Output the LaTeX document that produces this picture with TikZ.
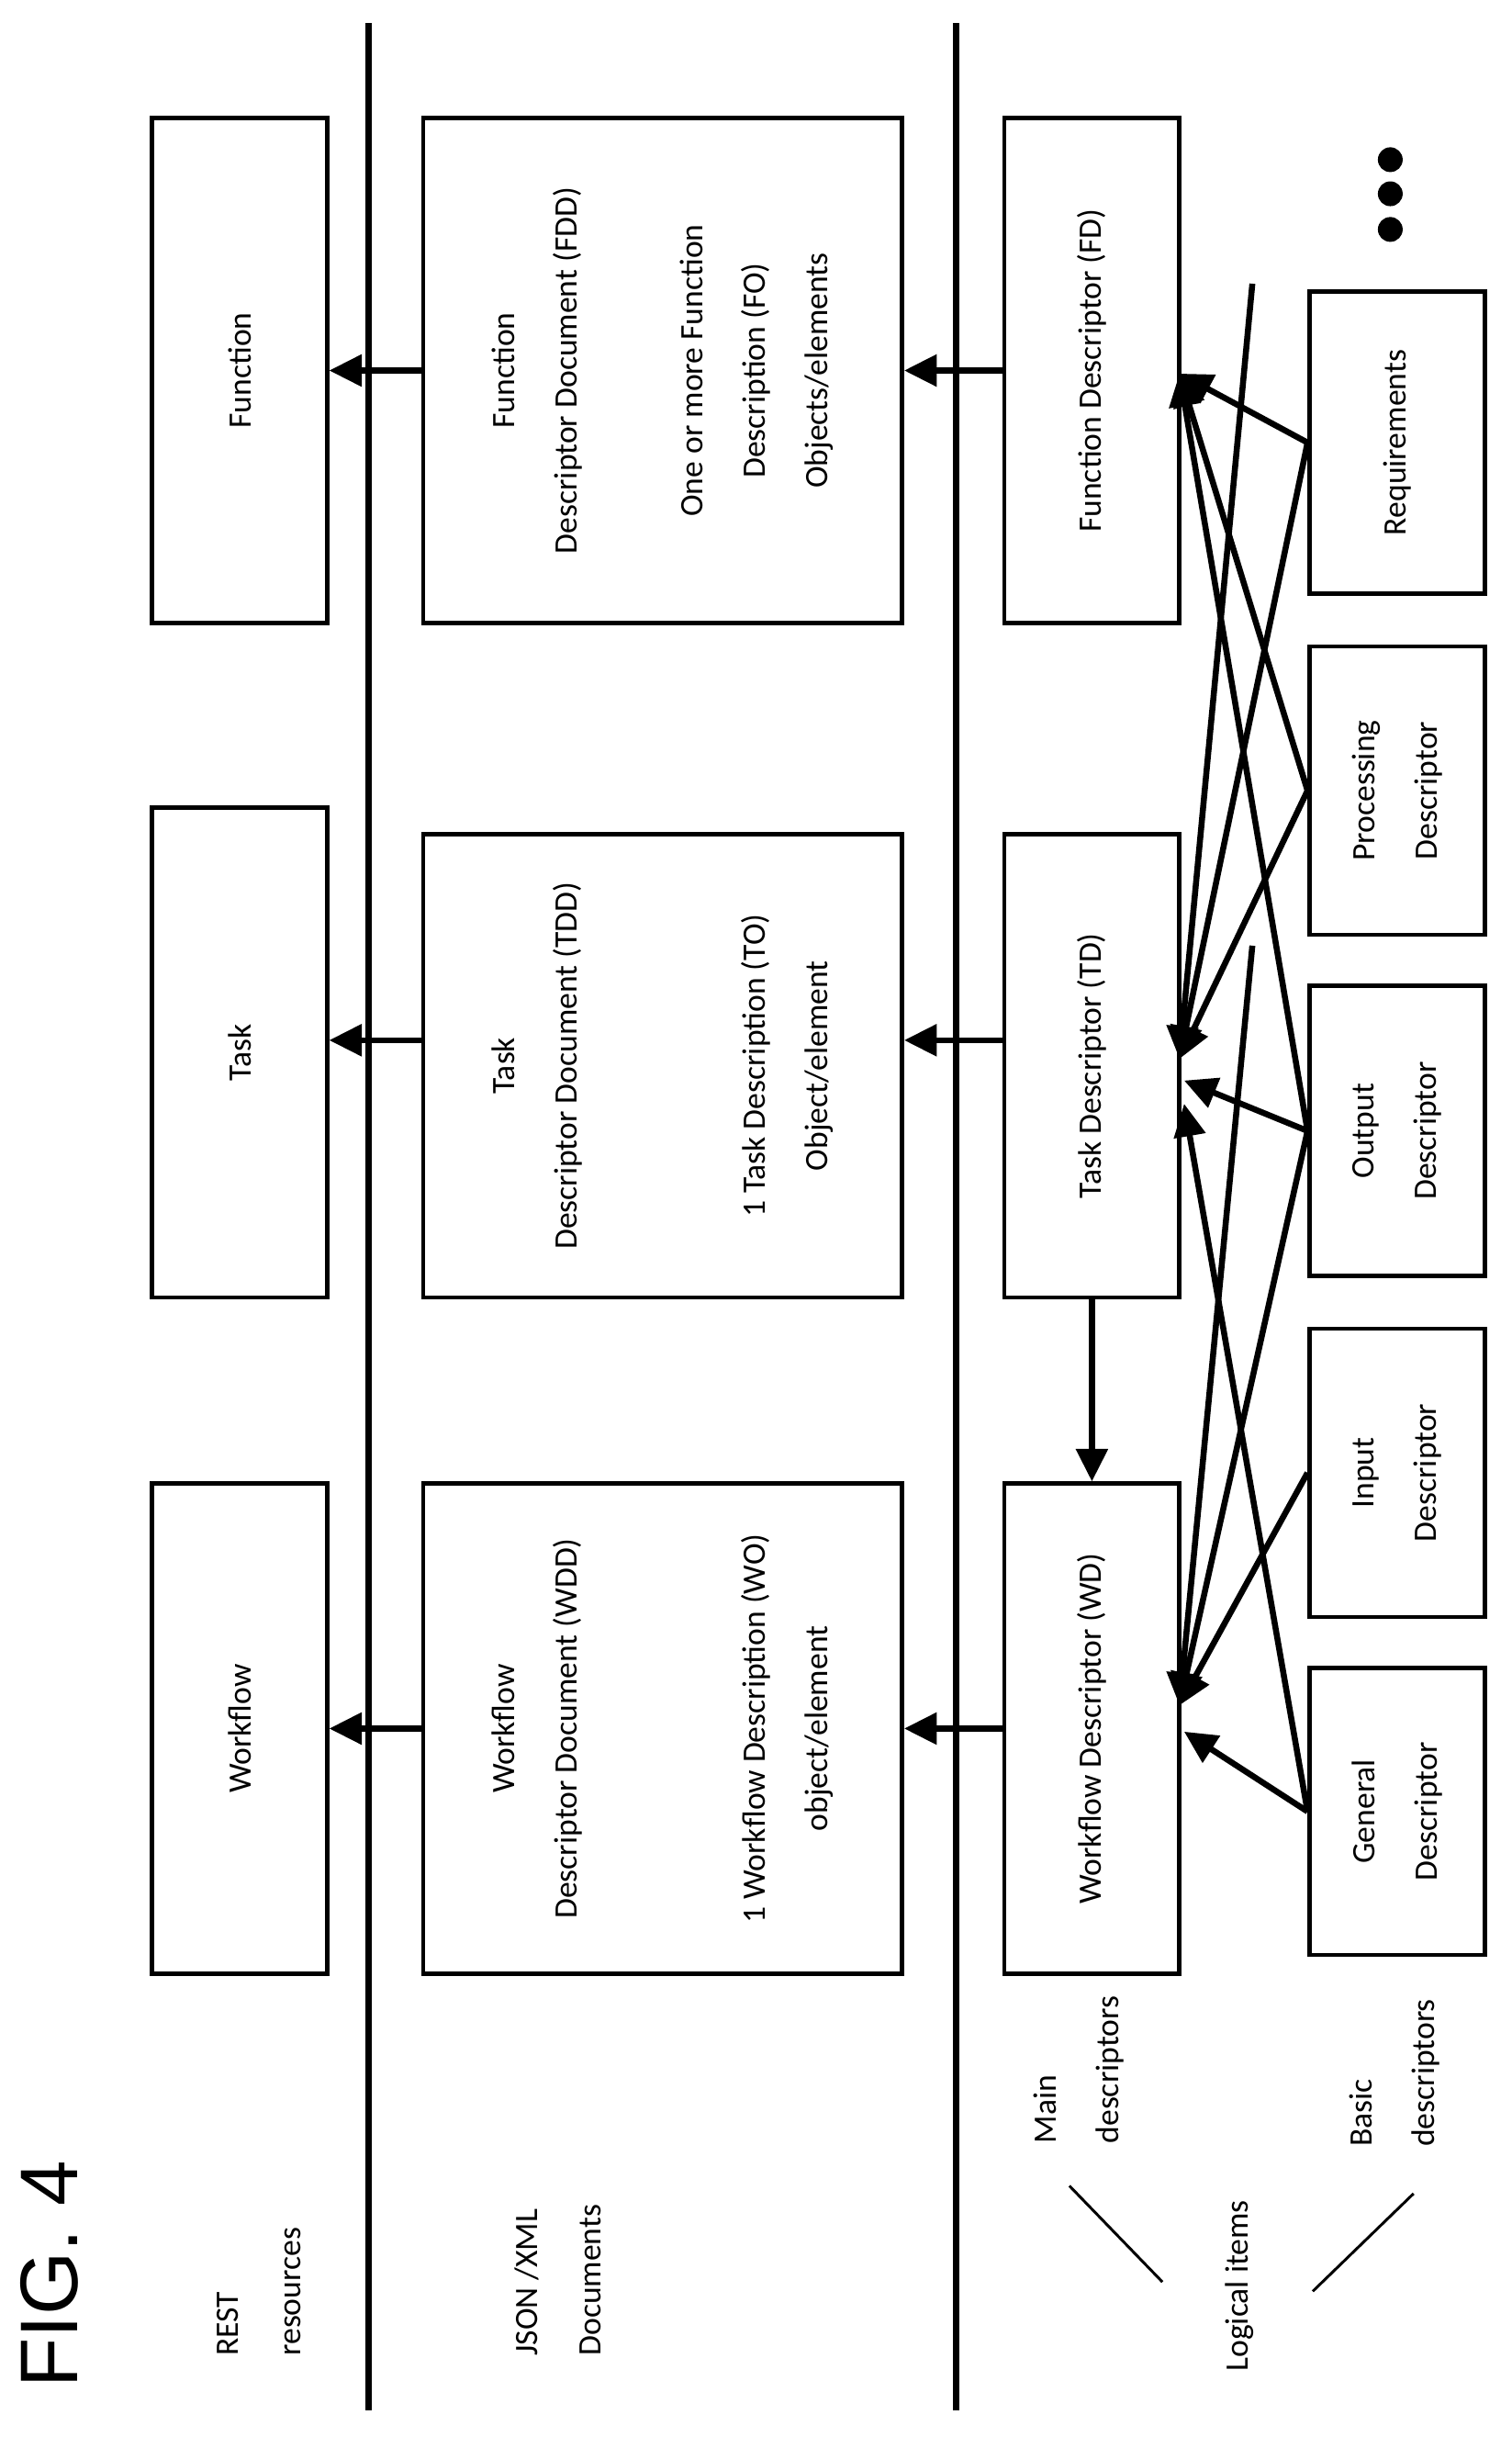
\documentclass[tikz,border=0pt]{standalone}
\usepackage{fontspec}
\setmainfont{Carlito}
\newfontfamily\figfont{Liberation Sans}
\usetikzlibrary{positioning,arrows.meta}

\tikzset{
  box/.style = {draw, line width=1.6pt, rotate=90, align=center,
                inner sep=0pt, font=\fontsize{12}{23}\selectfont},
  lbl/.style = {rotate=90, align=left, anchor=west, inner sep=0pt,
                font=\fontsize{12}{23}\selectfont},
  arr/.style = {line width=2.2pt, -{Triangle[length=0.42cm,width=0.4cm]}},
  rail/.style = {line width=2.4pt}
}

\begin{document}
\begin{tikzpicture}[x=0.02cm, y=-0.02cm]
\useasboundingbox (0,0) rectangle (975,1572);

% rails
\draw[rail] (238,15) -- (238,1555);
\draw[rail] (617,15) -- (617,1555);

% REST resources
\node[box, minimum width=6.52cm, minimum height=2.26cm] (Function) at (154.5,239) {Function};
\node[box, minimum width=6.32cm, minimum height=2.26cm] (Task) at (154.5,679) {Task};
\node[box, minimum width=6.32cm, minimum height=2.26cm] (Workflow) at (154.5,1115) {Workflow};

% JSON/XML documents
\node[box, minimum width=6.52cm, minimum height=6.18cm] (FDD) at (427.5,239)
  {Function\\Descriptor Document (FDD)\\[23pt]One or more Function\\Description (FO)\\Objects/elements};
\node[box, minimum width=5.98cm, minimum height=6.18cm] (TDD) at (427.5,687.5)
  {Task\\Descriptor Document (TDD)\\[46pt]1 Task Description (TO)\\Object/element};
\node[box, minimum width=6.32cm, minimum height=6.18cm] (WDD) at (427.5,1115)
  {Workflow\\Descriptor Document (WDD)\\[46pt]1 Workflow Description (WO)\\object/element};

% main descriptors
\node[box, minimum width=6.52cm, minimum height=2.26cm] (FD) at (704.5,239) {Function Descriptor (FD)};
\node[box, minimum width=5.98cm, minimum height=2.26cm] (TD) at (704.5,687.5) {Task Descriptor (TD)};
\node[box, minimum width=6.32cm, minimum height=2.26cm] (WD) at (704.5,1115) {Workflow Descriptor (WD)};

% basic descriptors
\node[box, minimum width=3.9cm, minimum height=2.26cm] (Req) at (901.5,285.5) {Requirements};
\node[box, minimum width=3.72cm, minimum height=2.26cm] (Proc) at (901.5,510) {Processing\\Descriptor};
\node[box, minimum width=3.74cm, minimum height=2.26cm] (Out) at (901.5,729.5) {Output\\Descriptor};
\node[box, minimum width=3.72cm, minimum height=2.26cm] (In) at (901.5,950) {Input\\Descriptor};
\node[box, minimum width=3.7cm, minimum height=2.26cm] (Gen) at (901.5,1168.5) {General\\Descriptor};

% more
\foreach \y in {103,125,148} \fill (897,\y) circle (8);

% left labels
\node[lbl] (rest) at (167,1520) {REST\\resources};
\node[lbl] (json) at (360,1520) {JSON /XML\\Documents};
\node[lbl] (main) at (696,1383) {Main\\descriptors};
\node[lbl] (logical) at (800,1530) {Logical items};
\node[lbl] (basic) at (900,1385) {Basic\\descriptors};
\node[rotate=90, inner sep=0pt, font=\figfont\fontsize{30}{30}\selectfont] (fig) at (32,1467) {FIG. 4};
\draw[line width=1pt] (690,1410) -- (750,1472);
\draw[line width=1pt] (912,1415) -- (847,1478);

% documents to resources
\coordinate (trow) at (0,671);
\draw[arr] (FDD.north) -- (Function.south |- FDD.north);
\draw[arr] (TDD.north |- trow) -- (Task.south |- trow);
\draw[arr] (WDD.north) -- (Workflow.south |- WDD.north);
\draw[arr] (FD.north) -- (FDD.south |- FD.north);
\draw[arr] (TD.north |- trow) -- (TDD.south |- trow);
\draw[arr] (WD.north) -- (WDD.south |- WD.north);
\draw[arr] (TD.west) -- (WD.east);

% basic to main descriptors
\coordinate (fdin) at (761,241);
\coordinate (tdin) at (761,683);
\coordinate (tdin2) at (764,697);
\coordinate (tdin3) at (764,712);
\coordinate (wdin) at (761,1100);
\coordinate (wdin2) at (764,1117);
\coordinate (free1) at (808,183);
\coordinate (free2) at (808,610);
\draw[arr] (Req.north) -- (fdin);
\draw[arr] (Req.north) -- (tdin);
\draw[arr] (Proc.north) -- (fdin);
\draw[arr] (Proc.north) -- (tdin);
\draw[arr] (Out.north) -- (fdin);
\draw[arr] (Out.north) -- (tdin2);
\draw[arr] (Out.north) -- (wdin);
\draw[arr] (In.north) -- (wdin);
\draw[arr] (Gen.north) -- (tdin3);
\draw[arr] (Gen.north) -- (wdin2);
\draw[arr] (free1) -- (tdin);
\draw[arr] (free2) -- (wdin);
\end{tikzpicture}
\end{document}
